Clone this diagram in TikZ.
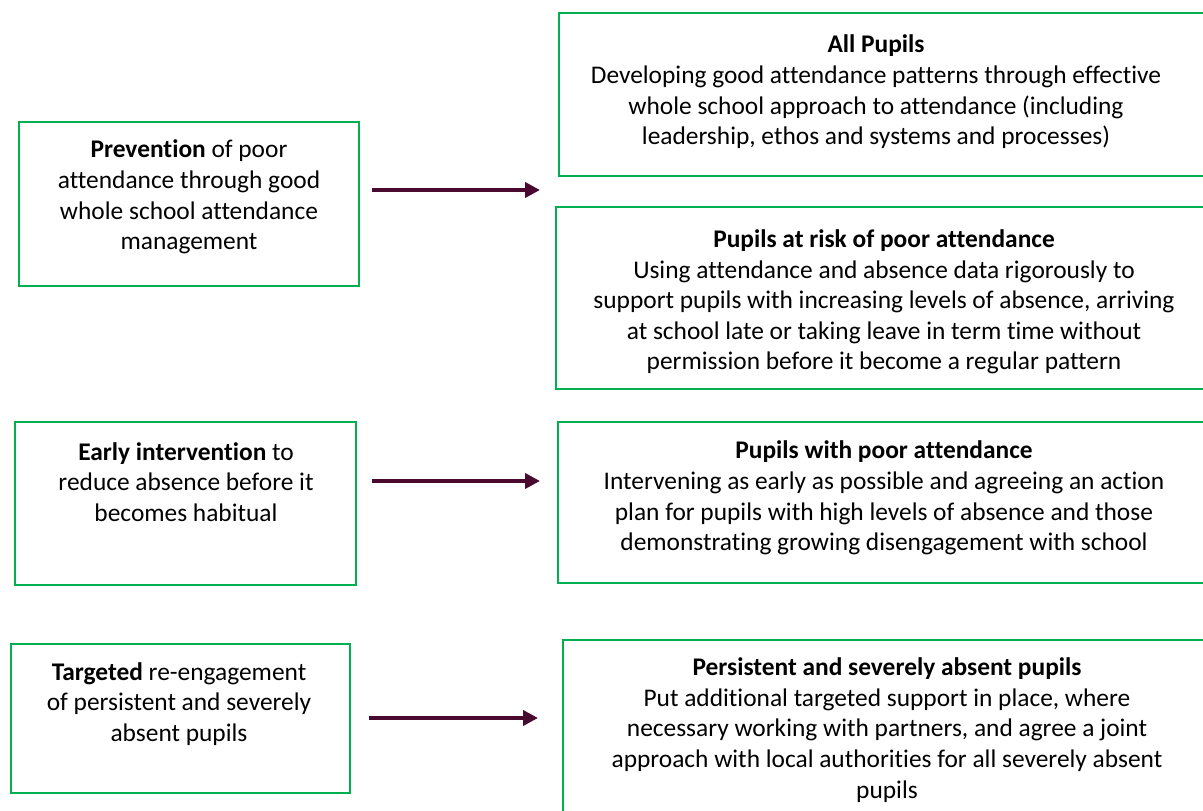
\documentclass[tikz,border=0pt]{standalone}
\usepackage{fontspec}
\setmainfont{Carlito}[Ligatures=NoCommon]
\usetikzlibrary{arrows.meta}
\definecolor{boxgreen}{HTML}{00B050}
\definecolor{arrowplum}{HTML}{4A0A30}
\begin{document}
\begin{tikzpicture}[x=1pt,y=-1pt,
  box/.style={draw=boxgreen, line width=1.8pt, inner sep=0pt, anchor=north west},
  txt/.style={align=center, font=\fontsize{25.4}{30.6}\selectfont, inner sep=0pt},
  flow/.style={draw=arrowplum, line width=3.8pt, -{Triangle[length=15pt,width=15pt]}}]
\useasboundingbox (0,0) rectangle (1203,811);

% left column: levels of approach
\node[box, minimum width=340pt, minimum height=164pt] (lb1) at (18,121) {};
\node[box, minimum width=341pt, minimum height=163pt] (lb2) at (14,421) {};
\node[box, minimum width=339pt, minimum height=149pt] (lb3) at (10,643) {};

\node[txt] (lt1) at (189,197) {\textbf{Prevention} of poor\\attendance through good\\whole school attendance\\management};
\node[txt] (lt2) at (186,482) {\textbf{Early intervention} to\\reduce absence before it\\becomes habitual};
\node[txt] (lt3) at (179,704) {\textbf{Targeted} re-engagement\\of persistent and severely\\absent pupils};

% right column: pupil groups
\node[box, minimum width=660pt, minimum height=163pt] (rb1) at (558,12) {};
\node[box, minimum width=660pt, minimum height=182pt] (rb2) at (555,206) {};
\node[box, minimum width=660pt, minimum height=161pt] (rb3) at (557,421) {};
\node[box, minimum width=660pt, minimum height=190pt] (rb4) at (562,639) {};

\node[txt] (rt1) at (876,92) {\textbf{All Pupils}\\Developing good attendance patterns through effective\\whole school approach to attendance (including\\leadership, ethos and systems and processes)};
\node[txt] (rt2) at (884,302) {\textbf{Pupils at risk of poor attendance}\\Using attendance and absence data rigorously to\\support pupils with increasing levels of absence, arriving\\at school late or taking leave in term time without\\permission before it become a regular pattern};
\node[txt] (rt3) at (884,498) {\textbf{Pupils with poor attendance}\\Intervening as early as possible and agreeing an action\\plan for pupils with high levels of absence and those\\demonstrating growing disengagement with school};
\node[txt] (rt4) at (887,730) {\textbf{Persistent and severely absent pupils}\\Put additional targeted support in place, where\\necessary working with partners, and agree a joint\\approach with local authorities for all severely absent\\pupils};

% connectors
\coordinate (a1s) at (372,190);
\coordinate (a1e) at (540,190);
\coordinate (a2s) at (372,481);
\coordinate (a2e) at (540,481);
\coordinate (a3s) at (369,718);
\coordinate (a3e) at (538,718);
\draw[flow] (a1s) -- (a1e);
\draw[flow] (a2s) -- (a2e);
\draw[flow] (a3s) -- (a3e);
\end{tikzpicture}
\end{document}
